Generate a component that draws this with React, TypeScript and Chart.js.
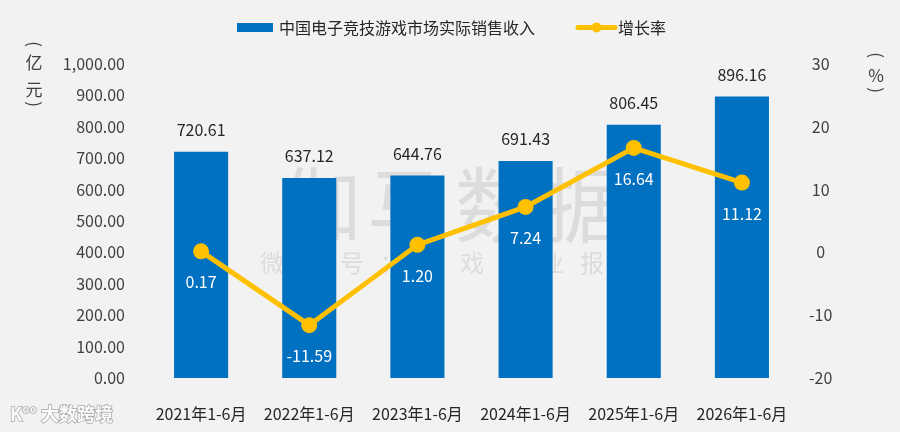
import React, { useEffect, useRef } from "react";
import { Chart, registerables } from "chart.js";

Chart.register(...registerables);

const categories = ["2021年1-6月", "2022年1-6月", "2023年1-6月", "2024年1-6月", "2025年1-6月", "2026年1-6月"];
const revenue = [720.61, 637.12, 644.76, 691.43, 806.45, 896.16];
const growth = [0.17, -11.59, 1.2, 7.24, 16.64, 11.12];
const revenueLabel = "中国电子竞技游戏市场实际销售收入";
const growthLabel = "增长率";
const leftTitle = ["(", "亿", "元", ")"];
const rightTitle = ["(", "%", ")"];

const FONT = "'Noto Sans CJK SC', 'Noto Sans', sans-serif";
const BLUE = "#0070C0";
const GOLD = "#FFC000";
const BG = "#F2F2F2";

const fmt2 = (v: number) =>
  v.toLocaleString("en-US", { minimumFractionDigits: 2, maximumFractionDigits: 2 });

function drawVertical(ctx: any, chars: string[], x: number, ys: number[]) {
  chars.forEach((c, i) => {
    if (c === "(" || c === ")") {
      ctx.save();
      ctx.translate(x, ys[i]);
      ctx.rotate(Math.PI / 2);
      ctx.fillText(c, 0, 0);
      ctx.restore();
    } else {
      ctx.fillText(c, x, ys[i]);
    }
  });
}

const decorPlugin = {
  id: "decor",
  beforeDatasetsDraw(chart: any) {
    const ctx = chart.ctx;
    ctx.save();
    ctx.textAlign = "center";
    ctx.textBaseline = "middle";
    ctx.fillStyle = "rgba(120,120,120,0.18)";
    ctx.font = `82px ${FONT}`;
    (ctx as any).letterSpacing = "6px";
    ctx.fillText("伽马数据", 455, 205);
    ctx.font = `24px ${FONT}`;
    (ctx as any).letterSpacing = "16px";
    ctx.fillText("微信号：游戏产业报告", 460, 263);
    ctx.restore();
  },
  afterDatasetsDraw(chart: any) {
    const ctx = chart.ctx;
    ctx.save();
    ctx.textAlign = "center";
    ctx.textBaseline = "middle";
    ctx.font = `16px ${FONT}`;
    const barMeta = chart.getDatasetMeta(0);
    barMeta.data.forEach((el: any, i: number) => {
      ctx.fillStyle = "#262626";
      ctx.fillText(fmt2(revenue[i]), el.x, el.y - 22);
    });
    const lineMeta = chart.getDatasetMeta(1);
    lineMeta.data.forEach((el: any, i: number) => {
      ctx.fillStyle = "#FFFFFF";
      ctx.fillText(fmt2(growth[i]), el.x, el.y + 31);
    });

    // legend
    ctx.fillStyle = BLUE;
    ctx.fillRect(237, 23, 36, 9);
    ctx.textAlign = "left";
    ctx.fillStyle = "#262626";
    ctx.font = `16px ${FONT}`;
    ctx.fillText(revenueLabel, 279, 27.5);
    ctx.strokeStyle = GOLD;
    ctx.lineWidth = 5;
    ctx.lineCap = "round";
    ctx.beginPath();
    ctx.moveTo(578, 27.5);
    ctx.lineTo(615, 27.5);
    ctx.stroke();
    ctx.fillStyle = GOLD;
    ctx.beginPath();
    ctx.arc(596.5, 27.5, 5, 0, Math.PI * 2);
    ctx.fill();
    ctx.fillStyle = "#262626";
    ctx.fillText(growthLabel, 618, 27.5);

    // axis titles
    ctx.textAlign = "center";
    ctx.fillStyle = "#404040";
    ctx.font = `17px ${FONT}`;
    drawVertical(ctx, leftTitle, 34, [44, 63, 90, 104]);
    drawVertical(ctx, rightTitle, 876, [55, 76, 90]);

    // corner logo
    ctx.textAlign = "left";
    ctx.font = `bold 18px ${FONT}`;
    ctx.lineWidth = 1.5;
    ctx.strokeStyle = "rgba(120,120,120,0.6)";
    ctx.fillStyle = "rgba(255,255,255,0.95)";
    ctx.strokeText("K°° 大数跨境", 10, 414);
    ctx.fillText("K°° 大数跨境", 10, 414);
    ctx.restore();
  },
};

export default function App() {
  const ref = useRef<HTMLCanvasElement | null>(null);
  useEffect(() => {
    document.body.style.margin = "0";
    if (!ref.current) return;
    Chart.defaults.font.family = FONT;
    const chart = new Chart(ref.current, {
      type: "bar",
      data: {
        labels: categories,
        datasets: [
          {
            type: "bar",
            label: revenueLabel,
            data: revenue,
            backgroundColor: BLUE,
            yAxisID: "y",
            barPercentage: 0.5,
            categoryPercentage: 1,
            order: 1,
          },
          {
            type: "line",
            label: growthLabel,
            data: growth,
            borderColor: GOLD,
            backgroundColor: GOLD,
            borderWidth: 5,
            pointRadius: 8,
            pointHoverRadius: 8,
            pointBackgroundColor: GOLD,
            pointBorderWidth: 0,
            tension: 0,
            yAxisID: "y1",
            order: 0,
          } as any,
        ],
      },
      options: {
        responsive: false,
        animation: false,
        layout: { padding: { top: 64, left: 0, right: 0, bottom: 0 } },
        plugins: { legend: { display: false }, tooltip: { enabled: false } },
        scales: {
          x: {
            grid: { display: false },
            border: { display: false },
            ticks: { color: "#262626", font: { size: 16 }, padding: 18, maxRotation: 0 },
            afterFit: (s: any) => {
              s.height = 54;
            },
          },
          y: {
            position: "left",
            min: 0,
            max: 1000,
            grid: { display: false, drawTicks: false },
            border: { display: false },
            ticks: {
              stepSize: 100,
              color: "#404040",
              font: { size: 16 },
              padding: 22,
              callback: (v: any) => fmt2(Number(v)),
            },
            afterFit: (s: any) => {
              s.width = 147;
            },
          },
          y1: {
            position: "right",
            min: -20,
            max: 30,
            grid: { display: false, drawTicks: false },
            border: { display: false },
            ticks: {
              stepSize: 10,
              color: "#404040",
              font: { size: 16 },
              padding: 13,
              crossAlign: "center",
            },
            afterFit: (s: any) => {
              s.width = 104;
            },
          },
        },
      },
      plugins: [decorPlugin],
    });
    return () => chart.destroy();
  }, []);
  return (
    <div style={{ width: 900, height: 432, background: BG }}>
      <canvas ref={ref} width={900} height={432} style={{ display: "block" }} />
    </div>
  );
}
